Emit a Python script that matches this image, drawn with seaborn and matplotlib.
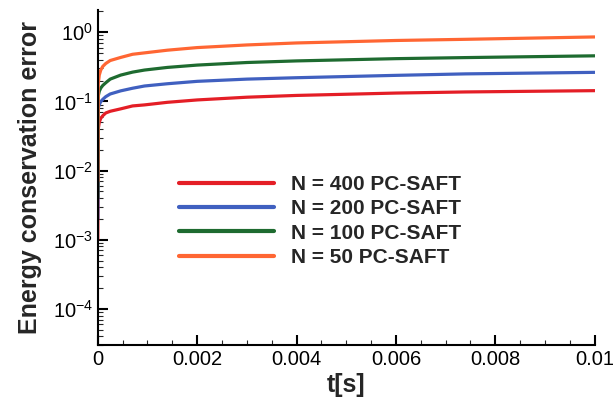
import numpy as np
import pandas as pd
import matplotlib
matplotlib.use("Agg")
import matplotlib.pyplot as plt
import matplotlib.ticker as mticker
import seaborn as sns

# ---- data ----
t = [0.0, 0.00001, 0.00003, 0.00006, 0.0001, 0.00016, 0.00025, 0.00046, 0.0007,
     0.00094, 0.0014, 0.002, 0.003, 0.004, 0.006, 0.0074, 0.01]
err_400 = [0.001, 0.040, 0.050, 0.057, 0.062, 0.068, 0.072, 0.078, 0.086,
           0.089, 0.097, 0.105, 0.115, 0.122, 0.132, 0.137, 0.143]
err_200 = [0.002, 0.080, 0.090, 0.099, 0.107, 0.117, 0.128, 0.142, 0.155,
           0.167, 0.180, 0.195, 0.210, 0.220, 0.238, 0.250, 0.263]
err_100 = [0.004, 0.120, 0.140, 0.156, 0.170, 0.186, 0.210, 0.240, 0.265,
           0.284, 0.310, 0.335, 0.365, 0.385, 0.415, 0.430, 0.456]
err_50 = [0.007, 0.180, 0.240, 0.284, 0.320, 0.353, 0.390, 0.432, 0.480,
          0.503, 0.550, 0.600, 0.655, 0.700, 0.760, 0.790, 0.855]
labels = ["N = 400 PC-SAFT", "N = 200 PC-SAFT", "N = 100 PC-SAFT", "N = 50 PC-SAFT"]
colors = ["#e41e26", "#4060c0", "#1e6b30", "#ff6633"]
xticks = [0, 0.002, 0.004, 0.006, 0.008, 0.01]
xtick_labels = ["0", "0.002", "0.004", "0.006", "0.008", "0.01"]

series = [err_400, err_200, err_100, err_50]
df = pd.concat(
    [pd.DataFrame({"t": t, "err": s, "case": lab}) for s, lab in zip(series, labels)],
    ignore_index=True,
)

sns.set_style("ticks")
plt.rcParams["font.family"] = ["Liberation Sans", "DejaVu Sans"]
plt.rcParams["mathtext.fontset"] = "custom"
plt.rcParams["mathtext.rm"] = "Liberation Sans"
plt.rcParams["mathtext.it"] = "Liberation Sans:italic"
plt.rcParams["mathtext.bf"] = "Liberation Sans:bold"

fig = plt.figure(figsize=(6.15, 3.98), dpi=100)
ax = fig.add_axes([0.159, 0.133, 0.808, 0.842])

sns.lineplot(data=df, x="t", y="err", hue="case", hue_order=labels,
             palette=colors, linewidth=2.3, ax=ax, estimator=None, sort=False)

ax.set_yscale("log")
ax.set_xlim(0, 0.01)
ax.set_ylim(3e-5, 2.1)
ax.set_xticks(xticks)
ax.set_xticklabels(xtick_labels)
ax.xaxis.set_minor_locator(mticker.MultipleLocator(0.0005))
ax.yaxis.set_major_locator(mticker.LogLocator(base=10, numticks=10))
ax.yaxis.set_minor_locator(mticker.LogLocator(base=10, subs=np.arange(2, 10), numticks=20))
ax.yaxis.set_minor_formatter(mticker.NullFormatter())

ax.tick_params(which="major", direction="in", length=7, width=1.5, labelsize=14.5, colors="black")
ax.tick_params(which="minor", direction="in", length=3.5, width=0.8)
for s in ["top", "right"]:
    ax.spines[s].set_visible(False)
for s in ["left", "bottom"]:
    ax.spines[s].set_linewidth(1.5)
    ax.spines[s].set_color("black")

ax.set_xlabel("t[s]", fontsize=18, fontweight="bold", labelpad=3)
ax.set_ylabel("Energy conservation error", fontsize=18, fontweight="bold", labelpad=8)

leg = ax.legend(loc="center", bbox_to_anchor=(0.447, 0.37), frameon=False,
                handlelength=4.6, handletextpad=0.8, labelspacing=0.25,
                prop={"weight": "bold", "size": 15})
for line in leg.get_lines():
    line.set_linewidth(3.0)

fig.savefig("out.png", dpi=100)
